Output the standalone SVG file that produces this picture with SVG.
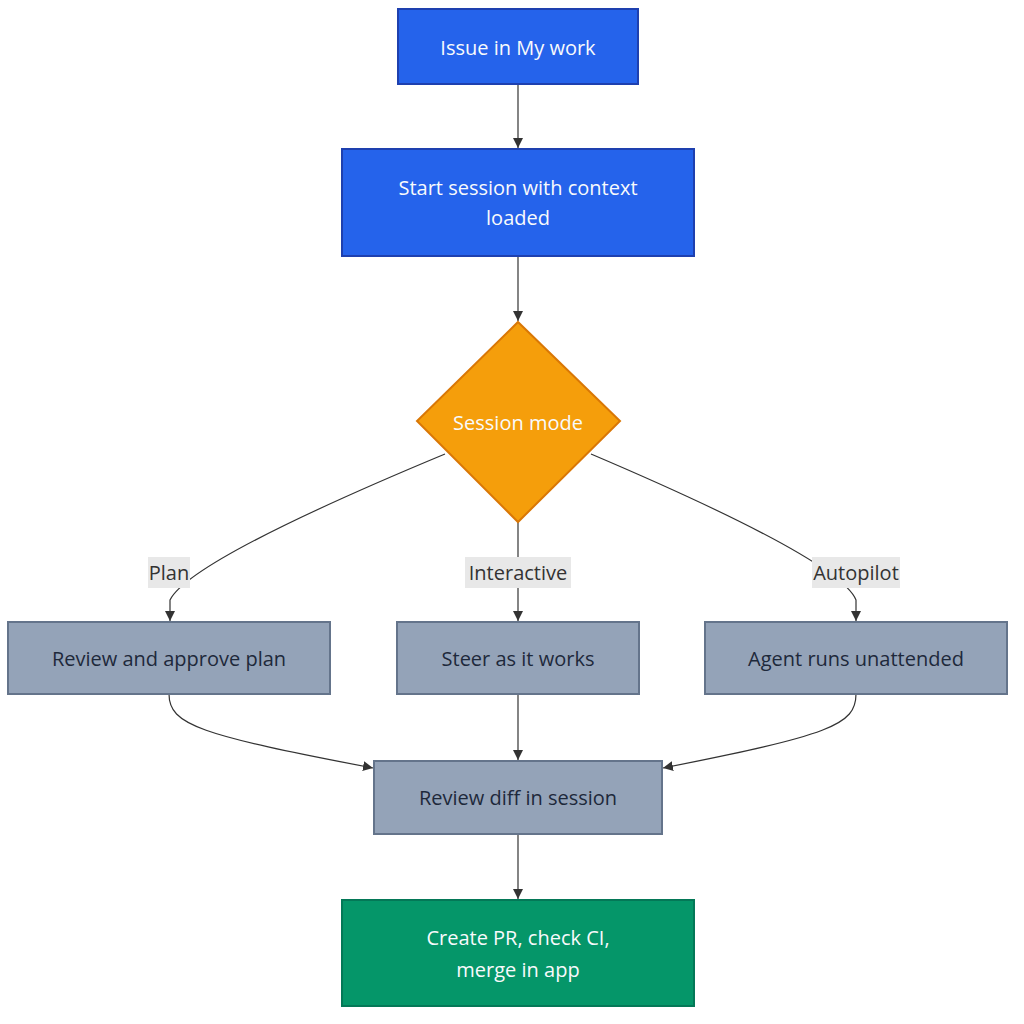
<svg xmlns="http://www.w3.org/2000/svg" width="1024" height="1024" viewBox="0 0 1024 1024">
<defs>
<style>
.lbl{font-family:"Trebuchet MS","Open Sans","DejaVu Sans",sans-serif;font-size:20px;text-anchor:middle;dominant-baseline:central}
.light{fill:#f8fafc}
.dark{fill:#1e293b}
.blue{fill:#2563eb;stroke:#1e40af;stroke-width:2}
.grey{fill:#94a3b8;stroke:#64748b;stroke-width:2}
.orange{fill:#f59e0b;stroke:#d97706;stroke-width:2}
.green{fill:#059669;stroke:#047857;stroke-width:2}
.edge{fill:none;stroke:#333;stroke-width:1.2;marker-end:url(#arr)}
.elbg{fill:#e8e8e8}
.el{fill:#333}
</style>
<marker id="arr" viewBox="0 0 10 10" refX="10" refY="5" markerWidth="10" markerHeight="10" markerUnits="userSpaceOnUse" orient="auto">
<path d="M0,0 L10,5 L0,10 z" fill="#333"/>
</marker>
</defs>
<rect width="1024" height="1024" fill="#ffffff"/>
<g id="edges">
<path class="edge" d="M518,84 L518,148"/>
<path class="edge" d="M518,256 L518,321"/>
<path class="edge" d="M445,454 Q190,560 170,600 L170,621"/>
<path class="edge" d="M518,522 L518,621"/>
<path class="edge" d="M591,454 Q840,560 856,600 L856,621"/>
<path class="edge" d="M169,694 C169,725 200,735 373,768"/>
<path class="edge" d="M518,694 L518,760"/>
<path class="edge" d="M856,694 C856,725 830,735 663,768"/>
<path class="edge" d="M518,834 L518,899"/>
</g>
<g id="edge-labels">
<rect class="elbg" x="148" y="557" width="42" height="31"/>
<text class="lbl el" x="169" y="572">Plan</text>
<rect class="elbg" x="465" y="557" width="106" height="31"/>
<text class="lbl el" x="518" y="572">Interactive</text>
<rect class="elbg" x="812" y="557" width="88" height="31"/>
<text class="lbl el" x="856" y="572">Autopilot</text>
</g>
<g id="issue">
<rect class="blue" x="398" y="9" width="240" height="75"/>
<text class="lbl light" x="518" y="47">Issue in My work</text>
</g>
<g id="start">
<rect class="blue" x="342" y="149" width="352" height="107"/>
<text class="lbl light" x="518" y="187">Start session with context</text>
<text class="lbl light" x="518" y="217">loaded</text>
</g>
<g id="mode">
<polygon class="orange" points="518,322 620,421 518,522 417,421"/>
<text class="lbl light" x="518" y="422">Session mode</text>
</g>
<g id="plan">
<rect class="grey" x="8" y="622" width="322" height="72"/>
<text class="lbl dark" x="169" y="658">Review and approve plan</text>
</g>
<g id="interactive">
<rect class="grey" x="397" y="622" width="242" height="72"/>
<text class="lbl dark" x="518" y="658">Steer as it works</text>
</g>
<g id="autopilot">
<rect class="grey" x="705" y="622" width="302" height="72"/>
<text class="lbl dark" x="856" y="658">Agent runs unattended</text>
</g>
<g id="review">
<rect class="grey" x="374" y="761" width="288" height="73"/>
<text class="lbl dark" x="518" y="797">Review diff in session</text>
</g>
<g id="merge">
<rect class="green" x="342" y="900" width="352" height="106"/>
<text class="lbl light" x="518" y="937">Create PR, check CI,</text>
<text class="lbl light" x="518" y="969">merge in app</text>
</g>
</svg>
